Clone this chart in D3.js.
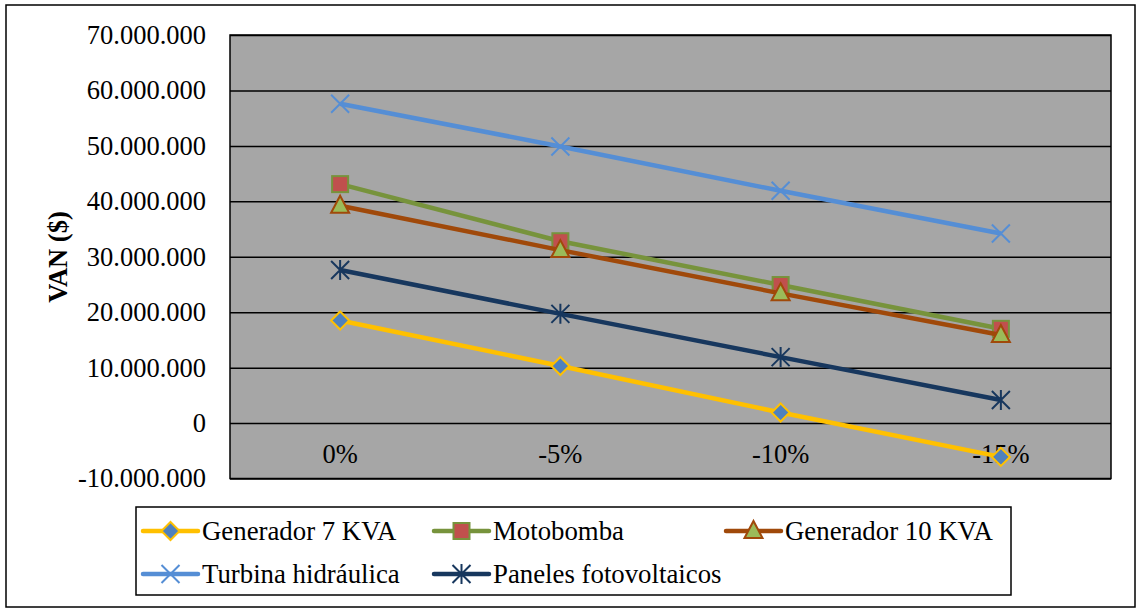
<!DOCTYPE html>
<html><head><meta charset="utf-8">
<script src="https://cdn.jsdelivr.net/npm/d3@7"></script>
<style>
body{margin:0;background:#fff;}
svg{display:block;}
svg text{font-family:"Liberation Serif","Times New Roman",serif !important;font-size:26.5px !important;fill:#000;}
svg text.bold{font-weight:bold;}
svg text.leg{font-size:26.8px !important;}
</style>
</head><body>
<script>
const categories = ["0%", "-5%", "-10%", "-15%"];
const yTicks = [-10000000, 0, 10000000, 20000000, 30000000, 40000000, 50000000, 60000000, 70000000];
const generador7 = [18500000, 10300000, 1900000, -6100000];
const motobomba = [43100000, 32800000, 24900000, 17000000];
const generador10 = [39200000, 31200000, 23400000, 15900000];
const turbina = [57600000, 49900000, 41900000, 34200000];
const paneles = [27600000, 19700000, 11900000, 4150000];
const seriesNames = ["Generador 7 KVA", "Motobomba", "Generador 10 KVA", "Turbina hidráulica", "Paneles fotovoltaicos"];

(function () {
const series = [
  {name: seriesNames[0], values: generador7, color: "#FFC000", marker: "diamond", fill: "#4F81BD", stroke: "#FFC000"},
  {name: seriesNames[1], values: motobomba, color: "#77933C", marker: "square", fill: "#C0504D", stroke: "#77933C"},
  {name: seriesNames[2], values: generador10, color: "#A0490A", marker: "triangle", fill: "#9BBB59", stroke: "#A0490A"},
  {name: seriesNames[3], values: turbina, color: "#558ED5", marker: "x", fill: "none", stroke: "#558ED5"},
  {name: seriesNames[4], values: paneles, color: "#17375E", marker: "star", fill: "none", stroke: "#17375E"}
];

const W = 1137, H = 609;
const svg = d3.select("body").append("svg").attr("width", W).attr("height", H);
svg.append("rect").attr("x", 6).attr("y", 5).attr("width", 1129).attr("height", 602)
  .attr("fill", "#fff").attr("stroke", "#000").attr("stroke-width", 1.5);

const pL = 230, pR = 1111, pT = 35, pB = 478.5;
const x = d3.scaleBand().domain(categories).range([pL, pR]);
const y = d3.scaleLinear().domain([-10000000, 70000000]).range([pB, pT]);

svg.append("rect").attr("x", pL).attr("y", pT).attr("width", pR - pL).attr("height", pB - pT)
  .attr("fill", "#A6A6A6");

const fmt = v => d3.format(",")(v).replace(/,/g, ".").replace("\u2212", "-");
const yAxis = d3.axisLeft(y).tickValues(yTicks).tickSize(-(pR - pL)).tickPadding(24).tickFormat(fmt);
const gy = svg.append("g").attr("transform", `translate(${pL},0)`).call(yAxis);
gy.select(".domain").remove();
gy.selectAll(".tick line").attr("stroke", "#000").attr("stroke-width", 1.5);

svg.append("rect").attr("x", pL).attr("y", pT).attr("width", pR - pL).attr("height", pB - pT)
  .attr("fill", "none").attr("stroke", "#000").attr("stroke-width", 1.5);

const xAxis = d3.axisBottom(x).tickSize(0).tickPadding(21);
const gx = svg.append("g").attr("transform", `translate(0,${y(0)})`).call(xAxis);
gx.select(".domain").remove();

svg.append("text").attr("class", "bold").attr("transform", "translate(67,257) rotate(-90)")
  .attr("text-anchor", "middle").text("VAN ($)");

const cx = c => x(c) + x.bandwidth() / 2;
const line = d3.line().x((d, i) => cx(categories[i])).y(d => y(d));

function drawMarker(g, s, px, py) {
  if (s.marker === "diamond") {
    g.append("path").attr("d", `M${px},${py-9}L${px+9},${py}L${px},${py+9}L${px-9},${py}Z`)
      .attr("fill", s.fill).attr("stroke", s.stroke).attr("stroke-width", 2);
  } else if (s.marker === "square") {
    g.append("rect").attr("x", px - 8).attr("y", py - 8).attr("width", 16).attr("height", 16)
      .attr("fill", s.fill).attr("stroke", s.stroke).attr("stroke-width", 2);
  } else if (s.marker === "triangle") {
    g.append("path").attr("d", `M${px},${py-10}L${px+9},${py+7}L${px-9},${py+7}Z`)
      .attr("fill", s.fill).attr("stroke", s.stroke).attr("stroke-width", 2);
  } else if (s.marker === "x") {
    g.append("path").attr("d", `M${px-9},${py-9}L${px+9},${py+9}M${px-9},${py+9}L${px+9},${py-9}`)
      .attr("stroke", s.stroke).attr("stroke-width", 2);
  } else if (s.marker === "star") {
    g.append("path").attr("d", `M${px-9},${py-9}L${px+9},${py+9}M${px-9},${py+9}L${px+9},${py-9}M${px},${py-10}L${px},${py+10}`)
      .attr("stroke", s.stroke).attr("stroke-width", 2);
  }
}

series.forEach(s => {
  const g = svg.append("g");
  g.append("path").datum(s.values).attr("d", line).attr("fill", "none")
    .attr("stroke", s.color).attr("stroke-width", 4.5).attr("stroke-linejoin", "round");
  s.values.forEach((v, i) => drawMarker(g, s, cx(categories[i]), y(v)));
});

svg.append("rect").attr("x", 136).attr("y", 507).attr("width", 875).attr("height", 88)
  .attr("fill", "#fff").attr("stroke", "#000").attr("stroke-width", 1.5);
const legPos = [[143, 531], [434, 531], [726, 531], [143, 574], [434, 574]];
series.forEach((s, i) => {
  const [lx, ly] = legPos[i];
  const g = svg.append("g");
  g.append("line").attr("x1", lx).attr("x2", lx + 55).attr("y1", ly).attr("y2", ly)
    .attr("stroke", s.color).attr("stroke-width", 4.5).attr("stroke-linecap", "round");
  drawMarker(g, s, lx + 27.5, ly);
  g.append("text").attr("class", "leg").attr("x", lx + 59).attr("y", ly).attr("dy", "0.35em").text(s.name);
});
})();
</script>
</body></html>
